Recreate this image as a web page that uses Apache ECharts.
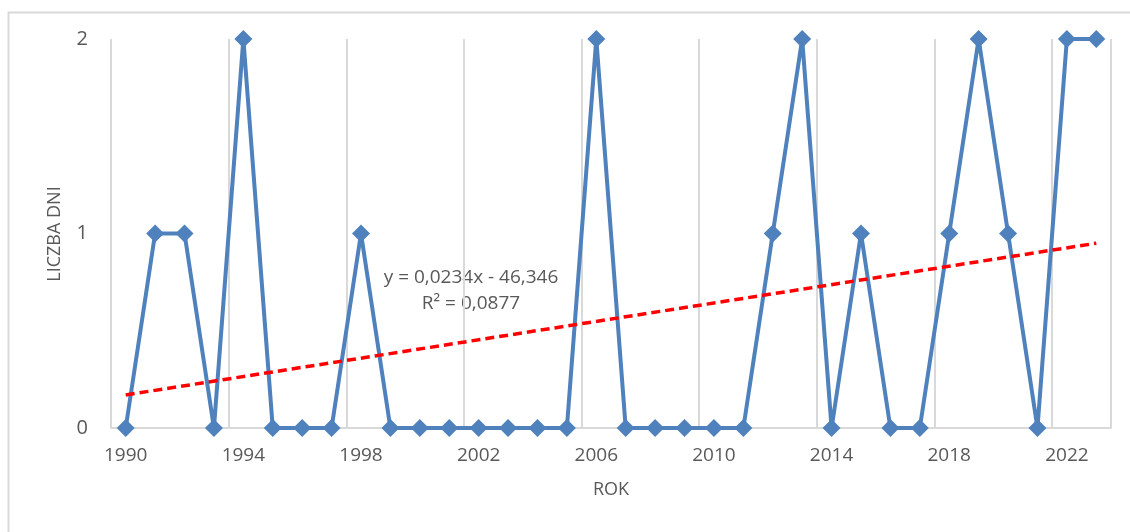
<!DOCTYPE html>
<html>
<head>
<meta charset="utf-8">
<script src="https://cdn.jsdelivr.net/npm/echarts@6/dist/echarts.min.js"></script>
<style>
html, body { margin: 0; padding: 0; background: #fff; }
#chart { width: 1130px; height: 532px; }
</style>
</head>
<body>
<div id="chart"></div>
<script>
// lata i liczba dni
var years = [1990, 1991, 1992, 1993, 1994, 1995, 1996, 1997, 1998, 1999, 2000, 2001,
  2002, 2003, 2004, 2005, 2006, 2007, 2008, 2009, 2010, 2011, 2012, 2013, 2014, 2015,
  2016, 2017, 2018, 2019, 2020, 2021, 2022, 2023];
var days = [0, 1, 1, 0, 2, 0, 0, 0, 1, 0, 0, 0,
  0, 0, 0, 0, 2, 0, 0, 0, 0, 0, 1, 2, 0, 1,
  0, 0, 1, 2, 1, 0, 2, 2];
// linia trendu - wartosci na poczatku i koncu
var trendStart = 0.17;
var trendEnd = 0.95;
var trendLabel = ['y = 0,0234x - 46,346', 'R² = 0,0877'];
var yTicks = [0, 1, 2];

var trend = years.map(function (y, i) {
  if (i === 0) return trendStart;
  if (i === years.length - 1) return trendEnd;
  return null;
});

var myChart = echarts.init(document.getElementById('chart'));
var font = '"Open Sans", "Noto Sans", "DejaVu Sans", sans-serif';
var option = {
  animation: false,
  backgroundColor: '#fff',
  textStyle: { fontFamily: font },
  grid: { left: 111, right: 19, top: 39, bottom: 104 },
  graphic: [
    {
      type: 'rect', left: 6, top: 10,
      shape: { width: 1140, height: 540 },
      style: { fill: 'none', stroke: '#d9d9d9', lineWidth: 2 },
      silent: true, z: -1
    },
    {
      type: 'text', x: 471, y: 265,
      style: {
        text: trendLabel.join('\n'), fill: '#595959', fontSize: 19,
        fontFamily: font, align: 'center', verticalAlign: 'top', lineHeight: 26
      }
    },
    // nazwa osi Y
    {
      type: 'text', x: 55, y: 234, rotation: Math.PI / 2,
      style: {
        text: 'LICZBA DNI', fill: '#595959', fontSize: 18,
        fontFamily: font, align: 'center', verticalAlign: 'middle'
      }
    }
  ],
  xAxis: {
    type: 'category',
    data: years,
    boundaryGap: true,
    name: 'ROK',
    nameLocation: 'middle',
    nameGap: 53,
    nameTextStyle: { color: '#595959', fontSize: 18, fontFamily: font },
    axisLine: { lineStyle: { color: '#d9d9d9', width: 2 } },
    axisTick: { show: false },
    axisLabel: { interval: 3, color: '#595959', fontSize: 19, margin: 18, fontFamily: font },
    splitLine: { show: true, interval: 3, lineStyle: { color: '#d9d9d9', width: 2 } }
  },
  yAxis: {
    type: 'value',
    min: yTicks[0],
    max: yTicks[yTicks.length - 1],
    interval: 1,
    axisLine: { show: false },
    axisTick: { show: false },
    axisLabel: { color: '#595959', fontSize: 20, margin: 23, fontFamily: font },
    splitLine: { show: false }
  },
  series: [
    {
      name: 'Liczba dni',
      type: 'line',
      data: days,
      symbol: 'diamond',
      symbolSize: 18,
      lineStyle: { color: '#4f81bd', width: 4 },
      itemStyle: { color: '#4f81bd' },
      z: 3
    },
    {
      name: 'Trend',
      type: 'line',
      data: trend,
      connectNulls: true,
      symbol: 'none',
      lineStyle: { color: '#ff0000', width: 3.5, type: [9, 5] },
      z: 4
    }
  ]
};
myChart.setOption(option);
</script>
</body>
</html>
